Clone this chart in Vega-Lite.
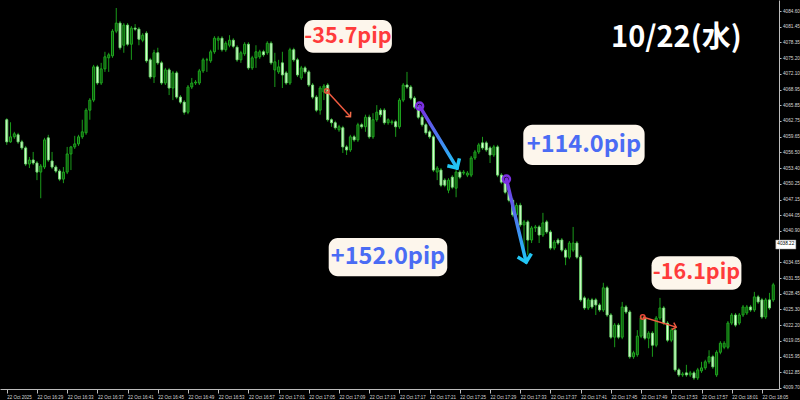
{
"$schema": "https://vega.github.io/schema/vega-lite/v6.json",
"width": 779, "height": 389,
"autosize": "none",
"padding": {"left": 0, "top": 0, "right": 21, "bottom": 11},
"background": "#000000",
"view": {"stroke": null},
"config": {"axis": {"grid": false, "title": null, "labelOverlap": false, "labelFlush": false, "labelBound": false, "tickCount": 100}},
"resolve": {"scale": {"color": "independent", "size": "independent", "angle": "independent", "strokeWidth": "independent"}},
"datasets": {
"candles": [
{"t":"2025-10-22T16:25:00","o":4063.0,"h":4063.3,"l":4058.0,"c":4058.6},
{"t":"2025-10-22T16:25:30","o":4058.6,"h":4062.5,"l":4058.4,"c":4059.6},
{"t":"2025-10-22T16:26:00","o":4059.6,"h":4060.6,"l":4059.2,"c":4060.2},
{"t":"2025-10-22T16:26:30","o":4060.0,"h":4060.4,"l":4058.2,"c":4058.6},
{"t":"2025-10-22T16:27:00","o":4058.6,"h":4059.0,"l":4057.0,"c":4057.4},
{"t":"2025-10-22T16:27:30","o":4057.4,"h":4057.8,"l":4053.8,"c":4054.2},
{"t":"2025-10-22T16:28:00","o":4054.2,"h":4055.6,"l":4053.4,"c":4055.0},
{"t":"2025-10-22T16:28:30","o":4055.0,"h":4056.6,"l":4054.0,"c":4054.4},
{"t":"2025-10-22T16:29:00","o":4054.4,"h":4054.8,"l":4051.0,"c":4052.6},
{"t":"2025-10-22T16:29:30","o":4052.6,"h":4054.2,"l":4047.4,"c":4053.8},
{"t":"2025-10-22T16:30:00","o":4053.6,"h":4059.4,"l":4053.2,"c":4059.0},
{"t":"2025-10-22T16:30:30","o":4059.4,"h":4060.0,"l":4054.6,"c":4055.0},
{"t":"2025-10-22T16:31:00","o":4054.8,"h":4056.6,"l":4053.2,"c":4053.6},
{"t":"2025-10-22T16:31:30","o":4053.6,"h":4054.0,"l":4052.4,"c":4052.8},
{"t":"2025-10-22T16:32:00","o":4052.8,"h":4053.2,"l":4050.8,"c":4051.2},
{"t":"2025-10-22T16:32:30","o":4051.2,"h":4053.6,"l":4050.4,"c":4052.6},
{"t":"2025-10-22T16:33:00","o":4052.6,"h":4057.6,"l":4052.2,"c":4056.2},
{"t":"2025-10-22T16:33:30","o":4056.2,"h":4057.8,"l":4053.0,"c":4057.6},
{"t":"2025-10-22T16:34:00","o":4057.6,"h":4059.8,"l":4057.2,"c":4058.2},
{"t":"2025-10-22T16:34:30","o":4058.2,"h":4060.0,"l":4057.8,"c":4059.6},
{"t":"2025-10-22T16:35:00","o":4059.6,"h":4063.0,"l":4059.2,"c":4060.6},
{"t":"2025-10-22T16:35:30","o":4060.4,"h":4065.3,"l":4060.0,"c":4064.9},
{"t":"2025-10-22T16:36:00","o":4064.9,"h":4067.3,"l":4063.0,"c":4066.9},
{"t":"2025-10-22T16:36:30","o":4066.9,"h":4073.9,"l":4066.5,"c":4073.5},
{"t":"2025-10-22T16:37:00","o":4073.5,"h":4073.9,"l":4069.9,"c":4070.3},
{"t":"2025-10-22T16:37:30","o":4070.3,"h":4074.3,"l":4069.9,"c":4073.1},
{"t":"2025-10-22T16:38:00","o":4073.1,"h":4076.5,"l":4072.5,"c":4075.5},
{"t":"2025-10-22T16:38:30","o":4075.3,"h":4076.3,"l":4072.5,"c":4075.9},
{"t":"2025-10-22T16:39:00","o":4075.7,"h":4081.0,"l":4075.3,"c":4080.6},
{"t":"2025-10-22T16:39:30","o":4080.6,"h":4085.2,"l":4080.2,"c":4082.2},
{"t":"2025-10-22T16:40:00","o":4082.2,"h":4082.6,"l":4076.9,"c":4077.3},
{"t":"2025-10-22T16:40:30","o":4077.8,"h":4082.2,"l":4076.3,"c":4081.8},
{"t":"2025-10-22T16:41:00","o":4081.8,"h":4082.2,"l":4077.6,"c":4078.0},
{"t":"2025-10-22T16:41:30","o":4078.0,"h":4081.6,"l":4074.9,"c":4081.2},
{"t":"2025-10-22T16:42:00","o":4081.2,"h":4082.0,"l":4080.6,"c":4081.0},
{"t":"2025-10-22T16:42:30","o":4081.0,"h":4081.4,"l":4077.8,"c":4079.0},
{"t":"2025-10-22T16:43:00","o":4078.8,"h":4080.2,"l":4078.4,"c":4079.8},
{"t":"2025-10-22T16:43:30","o":4080.2,"h":4080.6,"l":4074.3,"c":4074.7},
{"t":"2025-10-22T16:44:00","o":4074.9,"h":4075.3,"l":4071.1,"c":4071.5},
{"t":"2025-10-22T16:44:30","o":4071.5,"h":4076.9,"l":4070.3,"c":4076.3},
{"t":"2025-10-22T16:45:00","o":4076.3,"h":4077.3,"l":4073.9,"c":4074.3},
{"t":"2025-10-22T16:45:30","o":4074.3,"h":4074.7,"l":4069.9,"c":4070.3},
{"t":"2025-10-22T16:46:00","o":4070.3,"h":4073.3,"l":4069.9,"c":4072.9},
{"t":"2025-10-22T16:46:30","o":4072.9,"h":4073.3,"l":4067.9,"c":4069.3},
{"t":"2025-10-22T16:47:00","o":4069.3,"h":4072.7,"l":4066.9,"c":4072.3},
{"t":"2025-10-22T16:47:30","o":4072.3,"h":4072.7,"l":4067.1,"c":4067.5},
{"t":"2025-10-22T16:48:00","o":4067.5,"h":4067.9,"l":4066.1,"c":4066.5},
{"t":"2025-10-22T16:48:30","o":4066.5,"h":4066.9,"l":4064.0,"c":4064.5},
{"t":"2025-10-22T16:49:00","o":4064.5,"h":4069.9,"l":4064.1,"c":4069.5},
{"t":"2025-10-22T16:49:30","o":4069.5,"h":4071.3,"l":4069.1,"c":4070.3},
{"t":"2025-10-22T16:50:00","o":4070.3,"h":4070.9,"l":4069.9,"c":4070.5},
{"t":"2025-10-22T16:50:30","o":4070.3,"h":4073.1,"l":4069.9,"c":4072.7},
{"t":"2025-10-22T16:51:00","o":4072.7,"h":4075.3,"l":4072.3,"c":4074.9},
{"t":"2025-10-22T16:51:30","o":4074.9,"h":4075.3,"l":4072.5,"c":4074.9},
{"t":"2025-10-22T16:52:00","o":4074.7,"h":4076.9,"l":4074.3,"c":4076.5},
{"t":"2025-10-22T16:52:30","o":4076.5,"h":4079.6,"l":4076.1,"c":4079.2},
{"t":"2025-10-22T16:53:00","o":4078.8,"h":4079.6,"l":4076.9,"c":4079.2},
{"t":"2025-10-22T16:53:30","o":4079.2,"h":4079.6,"l":4076.5,"c":4076.9},
{"t":"2025-10-22T16:54:00","o":4076.9,"h":4078.6,"l":4076.5,"c":4078.2},
{"t":"2025-10-22T16:54:30","o":4077.8,"h":4079.8,"l":4077.4,"c":4078.8},
{"t":"2025-10-22T16:55:00","o":4078.8,"h":4079.2,"l":4077.2,"c":4077.6},
{"t":"2025-10-22T16:55:30","o":4077.4,"h":4077.8,"l":4074.5,"c":4074.9},
{"t":"2025-10-22T16:56:00","o":4074.9,"h":4076.7,"l":4074.3,"c":4076.3},
{"t":"2025-10-22T16:56:30","o":4076.1,"h":4078.4,"l":4075.7,"c":4078.0},
{"t":"2025-10-22T16:57:00","o":4078.0,"h":4078.4,"l":4072.9,"c":4073.3},
{"t":"2025-10-22T16:57:30","o":4073.3,"h":4075.7,"l":4072.9,"c":4075.3},
{"t":"2025-10-22T16:58:00","o":4075.3,"h":4077.8,"l":4073.3,"c":4076.5},
{"t":"2025-10-22T16:58:30","o":4075.5,"h":4076.9,"l":4075.1,"c":4076.5},
{"t":"2025-10-22T16:59:00","o":4076.5,"h":4076.9,"l":4075.5,"c":4075.9},
{"t":"2025-10-22T16:59:30","o":4076.3,"h":4078.6,"l":4075.9,"c":4078.2},
{"t":"2025-10-22T17:00:00","o":4078.2,"h":4078.6,"l":4073.9,"c":4074.3},
{"t":"2025-10-22T17:00:30","o":4072.9,"h":4076.3,"l":4069.5,"c":4074.5},
{"t":"2025-10-22T17:01:00","o":4072.5,"h":4074.9,"l":4072.1,"c":4073.5},
{"t":"2025-10-22T17:01:30","o":4074.3,"h":4076.5,"l":4069.3,"c":4071.9},
{"t":"2025-10-22T17:02:00","o":4072.3,"h":4072.7,"l":4069.9,"c":4070.3},
{"t":"2025-10-22T17:02:30","o":4070.3,"h":4077.3,"l":4069.9,"c":4076.9},
{"t":"2025-10-22T17:03:00","o":4076.9,"h":4077.3,"l":4074.5,"c":4074.9},
{"t":"2025-10-22T17:03:30","o":4074.9,"h":4075.3,"l":4071.5,"c":4071.9},
{"t":"2025-10-22T17:04:00","o":4071.3,"h":4073.7,"l":4070.9,"c":4073.3},
{"t":"2025-10-22T17:04:30","o":4073.3,"h":4073.7,"l":4072.1,"c":4072.5},
{"t":"2025-10-22T17:05:00","o":4072.5,"h":4072.9,"l":4069.5,"c":4069.9},
{"t":"2025-10-22T17:05:30","o":4069.9,"h":4070.3,"l":4067.1,"c":4067.5},
{"t":"2025-10-22T17:06:00","o":4067.5,"h":4067.9,"l":4064.5,"c":4064.9},
{"t":"2025-10-22T17:06:30","o":4064.9,"h":4069.7,"l":4064.0,"c":4069.3},
{"t":"2025-10-22T17:07:00","o":4068.5,"h":4070.1,"l":4066.9,"c":4069.7},
{"t":"2025-10-22T17:07:30","o":4069.9,"h":4070.3,"l":4062.6,"c":4063.0},
{"t":"2025-10-22T17:08:00","o":4063.0,"h":4063.3,"l":4061.6,"c":4062.4},
{"t":"2025-10-22T17:08:30","o":4062.4,"h":4062.8,"l":4061.0,"c":4061.4},
{"t":"2025-10-22T17:09:00","o":4061.0,"h":4062.0,"l":4060.6,"c":4061.6},
{"t":"2025-10-22T17:09:30","o":4061.4,"h":4061.8,"l":4056.4,"c":4057.6},
{"t":"2025-10-22T17:10:00","o":4057.6,"h":4058.0,"l":4056.0,"c":4057.0},
{"t":"2025-10-22T17:10:30","o":4057.0,"h":4060.0,"l":4056.6,"c":4059.6},
{"t":"2025-10-22T17:11:00","o":4059.6,"h":4060.0,"l":4058.6,"c":4059.0},
{"t":"2025-10-22T17:11:30","o":4059.0,"h":4062.4,"l":4058.6,"c":4062.0},
{"t":"2025-10-22T17:12:00","o":4062.0,"h":4062.4,"l":4061.2,"c":4061.6},
{"t":"2025-10-22T17:12:30","o":4061.6,"h":4064.0,"l":4060.6,"c":4063.5},
{"t":"2025-10-22T17:13:00","o":4063.5,"h":4064.0,"l":4059.2,"c":4059.6},
{"t":"2025-10-22T17:13:30","o":4059.6,"h":4064.3,"l":4059.2,"c":4063.0},
{"t":"2025-10-22T17:14:00","o":4063.0,"h":4065.9,"l":4062.6,"c":4064.5},
{"t":"2025-10-22T17:14:30","o":4064.9,"h":4065.3,"l":4063.5,"c":4064.0},
{"t":"2025-10-22T17:15:00","o":4064.9,"h":4065.3,"l":4062.0,"c":4062.4},
{"t":"2025-10-22T17:15:30","o":4062.4,"h":4063.3,"l":4062.0,"c":4063.0},
{"t":"2025-10-22T17:16:00","o":4062.4,"h":4063.0,"l":4062.0,"c":4062.6},
{"t":"2025-10-22T17:16:30","o":4062.6,"h":4063.0,"l":4059.6,"c":4061.6},
{"t":"2025-10-22T17:17:00","o":4061.6,"h":4067.3,"l":4061.2,"c":4066.9},
{"t":"2025-10-22T17:17:30","o":4066.9,"h":4070.3,"l":4066.5,"c":4069.9},
{"t":"2025-10-22T17:18:00","o":4069.9,"h":4072.5,"l":4069.1,"c":4069.5},
{"t":"2025-10-22T17:18:30","o":4069.5,"h":4069.9,"l":4066.9,"c":4067.3},
{"t":"2025-10-22T17:19:00","o":4067.3,"h":4067.7,"l":4065.1,"c":4065.5},
{"t":"2025-10-22T17:19:30","o":4065.5,"h":4065.9,"l":4063.1,"c":4063.5},
{"t":"2025-10-22T17:20:00","o":4063.5,"h":4064.0,"l":4061.6,"c":4062.0},
{"t":"2025-10-22T17:20:30","o":4062.0,"h":4062.4,"l":4060.0,"c":4060.4},
{"t":"2025-10-22T17:21:00","o":4060.6,"h":4061.0,"l":4059.2,"c":4059.6},
{"t":"2025-10-22T17:21:30","o":4059.6,"h":4060.0,"l":4052.6,"c":4053.0},
{"t":"2025-10-22T17:22:00","o":4052.6,"h":4053.8,"l":4051.0,"c":4053.4},
{"t":"2025-10-22T17:22:30","o":4053.0,"h":4053.4,"l":4049.6,"c":4050.0},
{"t":"2025-10-22T17:23:00","o":4051.0,"h":4051.4,"l":4049.6,"c":4050.0},
{"t":"2025-10-22T17:23:30","o":4049.0,"h":4051.4,"l":4048.4,"c":4051.0},
{"t":"2025-10-22T17:24:00","o":4051.6,"h":4052.0,"l":4049.2,"c":4049.6},
{"t":"2025-10-22T17:24:30","o":4049.4,"h":4053.0,"l":4047.6,"c":4052.6},
{"t":"2025-10-22T17:25:00","o":4052.6,"h":4053.0,"l":4051.2,"c":4051.6},
{"t":"2025-10-22T17:25:30","o":4052.4,"h":4053.0,"l":4052.0,"c":4052.6},
{"t":"2025-10-22T17:26:00","o":4052.0,"h":4052.8,"l":4051.6,"c":4052.4},
{"t":"2025-10-22T17:26:30","o":4052.0,"h":4055.8,"l":4051.6,"c":4055.4},
{"t":"2025-10-22T17:27:00","o":4055.4,"h":4057.0,"l":4055.0,"c":4056.6},
{"t":"2025-10-22T17:27:30","o":4056.6,"h":4058.4,"l":4056.2,"c":4058.0},
{"t":"2025-10-22T17:28:00","o":4058.4,"h":4059.6,"l":4057.0,"c":4057.4},
{"t":"2025-10-22T17:28:30","o":4058.4,"h":4058.8,"l":4056.6,"c":4057.0},
{"t":"2025-10-22T17:29:00","o":4057.4,"h":4057.8,"l":4054.4,"c":4056.0},
{"t":"2025-10-22T17:29:30","o":4056.0,"h":4058.0,"l":4055.6,"c":4057.6},
{"t":"2025-10-22T17:30:00","o":4057.6,"h":4058.0,"l":4051.6,"c":4052.0},
{"t":"2025-10-22T17:30:30","o":4052.0,"h":4052.4,"l":4050.2,"c":4050.6},
{"t":"2025-10-22T17:31:00","o":4050.6,"h":4051.0,"l":4048.2,"c":4048.6},
{"t":"2025-10-22T17:31:30","o":4048.6,"h":4049.0,"l":4046.6,"c":4047.0},
{"t":"2025-10-22T17:32:00","o":4047.0,"h":4047.4,"l":4043.7,"c":4044.1},
{"t":"2025-10-22T17:32:30","o":4044.1,"h":4046.5,"l":4043.5,"c":4046.0},
{"t":"2025-10-22T17:33:00","o":4046.0,"h":4046.5,"l":4041.7,"c":4042.1},
{"t":"2025-10-22T17:33:30","o":4042.1,"h":4043.1,"l":4037.1,"c":4042.7},
{"t":"2025-10-22T17:34:00","o":4042.7,"h":4043.1,"l":4036.1,"c":4039.1},
{"t":"2025-10-22T17:34:30","o":4039.1,"h":4041.9,"l":4038.5,"c":4041.5},
{"t":"2025-10-22T17:35:00","o":4041.5,"h":4042.1,"l":4040.7,"c":4041.7},
{"t":"2025-10-22T17:35:30","o":4041.7,"h":4042.1,"l":4038.5,"c":4040.1},
{"t":"2025-10-22T17:36:00","o":4040.1,"h":4044.5,"l":4039.7,"c":4042.5},
{"t":"2025-10-22T17:36:30","o":4042.7,"h":4043.1,"l":4040.3,"c":4040.7},
{"t":"2025-10-22T17:37:00","o":4040.7,"h":4041.1,"l":4037.1,"c":4037.5},
{"t":"2025-10-22T17:37:30","o":4037.5,"h":4039.1,"l":4037.1,"c":4038.7},
{"t":"2025-10-22T17:38:00","o":4039.1,"h":4039.5,"l":4038.1,"c":4038.5},
{"t":"2025-10-22T17:38:30","o":4039.1,"h":4039.5,"l":4036.7,"c":4037.1},
{"t":"2025-10-22T17:39:00","o":4037.1,"h":4037.5,"l":4034.1,"c":4035.7},
{"t":"2025-10-22T17:39:30","o":4035.7,"h":4038.9,"l":4035.3,"c":4038.5},
{"t":"2025-10-22T17:40:00","o":4037.1,"h":4041.7,"l":4036.7,"c":4038.5},
{"t":"2025-10-22T17:40:30","o":4038.5,"h":4038.9,"l":4035.3,"c":4035.7},
{"t":"2025-10-22T17:41:00","o":4035.7,"h":4036.1,"l":4026.8,"c":4027.2},
{"t":"2025-10-22T17:41:30","o":4027.6,"h":4028.0,"l":4025.2,"c":4025.6},
{"t":"2025-10-22T17:42:00","o":4025.6,"h":4027.6,"l":4025.2,"c":4027.2},
{"t":"2025-10-22T17:42:30","o":4027.2,"h":4027.6,"l":4025.4,"c":4025.8},
{"t":"2025-10-22T17:43:00","o":4027.2,"h":4027.6,"l":4024.2,"c":4026.2},
{"t":"2025-10-22T17:43:30","o":4026.2,"h":4026.6,"l":4024.8,"c":4025.2},
{"t":"2025-10-22T17:44:00","o":4025.2,"h":4030.6,"l":4024.8,"c":4029.6},
{"t":"2025-10-22T17:44:30","o":4029.6,"h":4030.0,"l":4023.8,"c":4024.2},
{"t":"2025-10-22T17:45:00","o":4024.2,"h":4024.6,"l":4019.4,"c":4019.8},
{"t":"2025-10-22T17:45:30","o":4019.8,"h":4022.6,"l":4017.8,"c":4022.2},
{"t":"2025-10-22T17:46:00","o":4022.2,"h":4022.6,"l":4019.4,"c":4019.8},
{"t":"2025-10-22T17:46:30","o":4019.8,"h":4026.8,"l":4019.4,"c":4025.8},
{"t":"2025-10-22T17:47:00","o":4025.8,"h":4026.2,"l":4024.4,"c":4024.8},
{"t":"2025-10-22T17:47:30","o":4024.8,"h":4025.2,"l":4015.5,"c":4015.9},
{"t":"2025-10-22T17:48:00","o":4015.9,"h":4017.1,"l":4015.5,"c":4016.7},
{"t":"2025-10-22T17:48:30","o":4016.3,"h":4021.2,"l":4015.9,"c":4020.0},
{"t":"2025-10-22T17:49:00","o":4020.0,"h":4024.0,"l":4019.6,"c":4023.6},
{"t":"2025-10-22T17:49:30","o":4023.6,"h":4024.0,"l":4019.2,"c":4019.6},
{"t":"2025-10-22T17:50:00","o":4019.6,"h":4021.0,"l":4017.6,"c":4020.6},
{"t":"2025-10-22T17:50:30","o":4020.6,"h":4021.0,"l":4015.9,"c":4018.2},
{"t":"2025-10-22T17:51:00","o":4018.2,"h":4024.0,"l":4017.8,"c":4023.6},
{"t":"2025-10-22T17:51:30","o":4023.6,"h":4027.6,"l":4023.2,"c":4025.6},
{"t":"2025-10-22T17:52:00","o":4025.6,"h":4026.0,"l":4022.2,"c":4022.6},
{"t":"2025-10-22T17:52:30","o":4022.6,"h":4023.0,"l":4018.8,"c":4019.2},
{"t":"2025-10-22T17:53:00","o":4019.2,"h":4021.6,"l":4018.8,"c":4021.2},
{"t":"2025-10-22T17:53:30","o":4021.2,"h":4021.6,"l":4012.9,"c":4013.3},
{"t":"2025-10-22T17:54:00","o":4013.3,"h":4013.7,"l":4011.9,"c":4012.3},
{"t":"2025-10-22T17:54:30","o":4012.3,"h":4012.9,"l":4011.9,"c":4012.5},
{"t":"2025-10-22T17:55:00","o":4012.7,"h":4014.3,"l":4011.9,"c":4012.3},
{"t":"2025-10-22T17:55:30","o":4012.3,"h":4013.1,"l":4011.9,"c":4012.7},
{"t":"2025-10-22T17:56:00","o":4012.7,"h":4013.1,"l":4011.3,"c":4011.7},
{"t":"2025-10-22T17:56:30","o":4011.7,"h":4013.7,"l":4011.3,"c":4013.3},
{"t":"2025-10-22T17:57:00","o":4013.1,"h":4014.9,"l":4012.7,"c":4013.7},
{"t":"2025-10-22T17:57:30","o":4013.7,"h":4015.3,"l":4013.3,"c":4014.9},
{"t":"2025-10-22T17:58:00","o":4014.9,"h":4017.2,"l":4014.5,"c":4015.9},
{"t":"2025-10-22T17:58:30","o":4015.9,"h":4016.3,"l":4013.5,"c":4013.9},
{"t":"2025-10-22T17:59:00","o":4012.3,"h":4017.2,"l":4011.9,"c":4016.8},
{"t":"2025-10-22T17:59:30","o":4016.8,"h":4019.0,"l":4016.4,"c":4018.6},
{"t":"2025-10-22T18:00:00","o":4017.8,"h":4019.0,"l":4017.4,"c":4018.6},
{"t":"2025-10-22T18:00:30","o":4017.8,"h":4023.0,"l":4017.4,"c":4022.6},
{"t":"2025-10-22T18:01:00","o":4022.6,"h":4024.6,"l":4022.2,"c":4024.2},
{"t":"2025-10-22T18:01:30","o":4024.2,"h":4024.6,"l":4021.8,"c":4022.2},
{"t":"2025-10-22T18:02:00","o":4022.6,"h":4024.6,"l":4022.2,"c":4024.2},
{"t":"2025-10-22T18:02:30","o":4024.2,"h":4026.2,"l":4023.8,"c":4025.8},
{"t":"2025-10-22T18:03:00","o":4024.6,"h":4026.2,"l":4024.2,"c":4025.8},
{"t":"2025-10-22T18:03:30","o":4025.8,"h":4026.2,"l":4024.8,"c":4025.2},
{"t":"2025-10-22T18:04:00","o":4025.2,"h":4028.8,"l":4024.8,"c":4027.8},
{"t":"2025-10-22T18:04:30","o":4027.8,"h":4028.2,"l":4026.4,"c":4026.8},
{"t":"2025-10-22T18:05:00","o":4027.2,"h":4027.6,"l":4023.4,"c":4023.8},
{"t":"2025-10-22T18:05:30","o":4023.8,"h":4027.6,"l":4023.4,"c":4027.2},
{"t":"2025-10-22T18:06:00","o":4027.2,"h":4028.6,"l":4025.2,"c":4025.6},
{"t":"2025-10-22T18:06:30","o":4027.2,"h":4030.6,"l":4026.8,"c":4030.2}
],
"boxes": [
{"t":"2025-10-22T17:04:22","t2":"2025-10-22T17:16:00","p":4082.8,"p2":4076.3},
{"t":"2025-10-22T17:33:24","t2":"2025-10-22T17:49:28","p":4062.0,"p2":4054.0},
{"t":"2025-10-22T17:07:38","t2":"2025-10-22T17:23:20","p":4039.5,"p2":4031.9},
{"t":"2025-10-22T17:50:23","t2":"2025-10-22T18:02:17","p":4035.9,"p2":4029.2}
],
"labels": [
{"t":"2025-10-22T17:10:11","p":4079.4,"text":"-35.7pip","kind":"neg"},
{"t":"2025-10-22T17:41:26","p":4058.0,"text":"+114.0pip","kind":"pos"},
{"t":"2025-10-22T17:15:29","p":4035.7,"text":"+152.0pip","kind":"pos"},
{"t":"2025-10-22T17:56:20","p":4032.5,"text":"-16.1pip","kind":"neg"},
{"t":"2025-10-22T17:53:40","p":4079.2,"text":"10/22(水)","kind":"date"}
],
"arrows": [
{"id":"red1","ord":1,"t":"2025-10-22T17:07:23","p":4068.7},
{"id":"red1","ord":2,"t":"2025-10-22T17:10:31","p":4063.6},
{"id":"grad1","ord":1,"t":"2025-10-22T17:19:40","p":4065.7},
{"id":"grad1","ord":2,"t":"2025-10-22T17:24:38","p":4053.4},
{"id":"grad2","ord":1,"t":"2025-10-22T17:31:10","p":4051.2},
{"id":"grad2","ord":2,"t":"2025-10-22T17:33:47","p":4034.7},
{"id":"red2","ord":1,"t":"2025-10-22T17:49:13","p":4023.8},
{"id":"red2","ord":2,"t":"2025-10-22T17:53:39","p":4021.8}
],
"price": [
{"t":"2025-10-22T18:06:50","t2":"2025-10-22T18:09:30","tm":"2025-10-22T18:08:10","p":4039.1,"p2":4037.3,"pm":4038.22,"text":"4038.22"}
]
},
"layer": [
{
"mark": {"type": "rule", "color": "#3a4047", "strokeWidth": 1},
"encoding": {
"y": {"datum": 4038.22, "type": "quantitative", "scale": {"domain": [4009.5, 4086.79], "nice": false, "zero": false}}
}
},
{
"mark": {"type": "rule", "color": "#9a9a9a", "strokeWidth": 1},
"encoding": {
"x": {"datum": {"year": 2025, "month": 10, "date": 22, "hours": 16, "minutes": 25, "seconds": 6}, "type": "temporal", "scale": {"domain": [{"year": 2025, "month": 10, "date": 22, "hours": 16, "minutes": 24, "seconds": 46}, {"year": 2025, "month": 10, "date": 22, "hours": 18, "minutes": 6, "seconds": 36}], "nice": false}}
}
},
{
"data": {"name": "candles"},
"mark": {"type": "rule", "color": "#1a9a1a", "strokeWidth": 1},
"encoding": {
"x": {"field": "t", "type": "temporal", "scale": {"domain": [{"year": 2025, "month": 10, "date": 22, "hours": 16, "minutes": 24, "seconds": 46}, {"year": 2025, "month": 10, "date": 22, "hours": 18, "minutes": 6, "seconds": 36}], "nice": false}},
"y": {"field": "l", "type": "quantitative", "scale": {"domain": [4009.5, 4086.79], "nice": false, "zero": false}},
"y2": {"field": "h"}
}
},
{
"data": {"name": "candles"},
"mark": {"type": "bar", "width": 2, "strokeWidth": 1},
"encoding": {
"x": {"field": "t", "type": "temporal", "scale": {"domain": [{"year": 2025, "month": 10, "date": 22, "hours": 16, "minutes": 24, "seconds": 46}, {"year": 2025, "month": 10, "date": 22, "hours": 18, "minutes": 6, "seconds": 36}], "nice": false},
 "axis": {"orient": "bottom", "title": null, "grid": false, "tickCount": 100, "values": [
 {"year":2025,"month":10,"date":22,"hours":16,"minutes":25},{"year":2025,"month":10,"date":22,"hours":16,"minutes":29},{"year":2025,"month":10,"date":22,"hours":16,"minutes":33},{"year":2025,"month":10,"date":22,"hours":16,"minutes":37},{"year":2025,"month":10,"date":22,"hours":16,"minutes":41},{"year":2025,"month":10,"date":22,"hours":16,"minutes":45},{"year":2025,"month":10,"date":22,"hours":16,"minutes":49},{"year":2025,"month":10,"date":22,"hours":16,"minutes":53},{"year":2025,"month":10,"date":22,"hours":16,"minutes":57},{"year":2025,"month":10,"date":22,"hours":17,"minutes":1},{"year":2025,"month":10,"date":22,"hours":17,"minutes":5},{"year":2025,"month":10,"date":22,"hours":17,"minutes":9},{"year":2025,"month":10,"date":22,"hours":17,"minutes":13},{"year":2025,"month":10,"date":22,"hours":17,"minutes":17},{"year":2025,"month":10,"date":22,"hours":17,"minutes":21},{"year":2025,"month":10,"date":22,"hours":17,"minutes":25},{"year":2025,"month":10,"date":22,"hours":17,"minutes":29},{"year":2025,"month":10,"date":22,"hours":17,"minutes":33},{"year":2025,"month":10,"date":22,"hours":17,"minutes":37},{"year":2025,"month":10,"date":22,"hours":17,"minutes":41},{"year":2025,"month":10,"date":22,"hours":17,"minutes":45},{"year":2025,"month":10,"date":22,"hours":17,"minutes":49},{"year":2025,"month":10,"date":22,"hours":17,"minutes":53},{"year":2025,"month":10,"date":22,"hours":17,"minutes":57},{"year":2025,"month":10,"date":22,"hours":18,"minutes":1},{"year":2025,"month":10,"date":22,"hours":18,"minutes":5}
 ],
 "labelExpr": "hours(datum.value) == 16 && minutes(datum.value) == 25 ? '22 Oct 2025' : timeFormat(datum.value, '%d %b %H:%M')",
 "labelAlign": "left", "labelBaseline": "top", "labelFontSize": 4.5, "labelFont": "Liberation Sans", "labelColor": "#d8d8d8", "labelPadding": 1, "labelOverlap": false, "labelFlush": false, "labelBound": false,
 "tickSize": 4, "tickColor": "#bdbdbd", "domainColor": "#bdbdbd", "domainWidth": 1}},
"y": {"field": "o", "type": "quantitative", "scale": {"domain": [4009.5, 4086.79], "nice": false, "zero": false},
 "axis": {"orient": "right", "title": null, "grid": false, "tickCount": 100, "values": [4084.6, 4081.45, 4078.35, 4075.2, 4072.1, 4068.95, 4065.85, 4062.75, 4059.65, 4056.5, 4053.4, 4050.25, 4047.15, 4044.05, 4040.9, 4034.65, 4031.55, 4028.45, 4025.3, 4022.2, 4019.05, 4015.95, 4012.85, 4009.7],
 "format": ".2f", "labelFontSize": 4.7, "labelFont": "Liberation Sans", "labelColor": "#d8d8d8", "labelPadding": 1.5, "labelOverlap": false, "labelFlush": false, "labelBound": false,
 "tickSize": 2, "tickColor": "#bdbdbd", "domainColor": "#bdbdbd", "domainWidth": 1}},
"y2": {"field": "c"},
"fill": {"condition": {"test": "datum.o > datum.c", "value": "#dcffd6"}, "value": "#0b4f0b"},
"stroke": {"condition": {"test": "datum.o > datum.c", "value": "#6fd86f"}, "value": "#1fa81f"}
}
},
{
"data": {"name": "boxes"},
"mark": {"type": "rect", "cornerRadius": 9, "fill": "#fdf6ec"},
"encoding": {
"x": {"field": "t", "type": "temporal", "scale": {"domain": [{"year": 2025, "month": 10, "date": 22, "hours": 16, "minutes": 24, "seconds": 46}, {"year": 2025, "month": 10, "date": 22, "hours": 18, "minutes": 6, "seconds": 36}], "nice": false}},
"x2": {"field": "t2"},
"y": {"field": "p", "type": "quantitative", "scale": {"domain": [4009.5, 4086.79], "nice": false, "zero": false}},
"y2": {"field": "p2"}
}
},
{
"data": {"name": "labels"},
"mark": {"type": "text", "font": "Noto Sans CJK JP", "fontWeight": "bold", "align": "center", "baseline": "middle"},
"encoding": {
"x": {"field": "t", "type": "temporal", "scale": {"domain": [{"year": 2025, "month": 10, "date": 22, "hours": 16, "minutes": 24, "seconds": 46}, {"year": 2025, "month": 10, "date": 22, "hours": 18, "minutes": 6, "seconds": 36}], "nice": false}},
"y": {"field": "p", "type": "quantitative", "scale": {"domain": [4009.5, 4086.79], "nice": false, "zero": false}},
"text": {"field": "text"},
"color": {"field": "kind", "type": "nominal", "scale": {"type": "ordinal", "domain": ["neg", "pos", "date"], "range": ["#ff3b3b", "#4a6cf4", "#ffffff"]}, "legend": null},
"size": {"field": "kind", "type": "nominal", "scale": {"type": "ordinal", "domain": ["neg", "pos", "date"], "range": [21.5, 23.5, 29]}, "legend": null}
}
},
{
"data": {"name": "arrows"},
"transform": [{"filter": "datum.id == 'red1' || datum.id == 'red2'"}],
"mark": {"type": "line", "color": "#f05a40", "strokeWidth": 1.5},
"encoding": {
"x": {"field": "t", "type": "temporal", "scale": {"domain": [{"year": 2025, "month": 10, "date": 22, "hours": 16, "minutes": 24, "seconds": 46}, {"year": 2025, "month": 10, "date": 22, "hours": 18, "minutes": 6, "seconds": 36}], "nice": false}},
"y": {"field": "p", "type": "quantitative", "scale": {"domain": [4009.5, 4086.79], "nice": false, "zero": false}},
"detail": {"field": "id"},
"order": {"field": "ord"}
}
},
{
"data": {"name": "arrows"},
"transform": [{"filter": "datum.id == 'grad1'"}],
"mark": {"type": "line", "strokeWidth": 3.5, "strokeCap": "round", "stroke": {"gradient": "linear", "x1": 0, "y1": 0, "x2": 1, "y2": 1, "stops": [{"offset": 0, "color": "#7a2ee2"}, {"offset": 0.5, "color": "#4a7cf0"}, {"offset": 1, "color": "#1ec8f6"}]}},
"encoding": {
"x": {"field": "t", "type": "temporal", "scale": {"domain": [{"year": 2025, "month": 10, "date": 22, "hours": 16, "minutes": 24, "seconds": 46}, {"year": 2025, "month": 10, "date": 22, "hours": 18, "minutes": 6, "seconds": 36}], "nice": false}},
"y": {"field": "p", "type": "quantitative", "scale": {"domain": [4009.5, 4086.79], "nice": false, "zero": false}},
"order": {"field": "ord"}
}
},
{
"data": {"name": "arrows"},
"transform": [{"filter": "datum.id == 'grad2'"}],
"mark": {"type": "line", "strokeWidth": 3.5, "strokeCap": "round", "stroke": {"gradient": "linear", "x1": 0, "y1": 0, "x2": 0, "y2": 1, "stops": [{"offset": 0, "color": "#7a2ee2"}, {"offset": 0.5, "color": "#4a7cf0"}, {"offset": 1, "color": "#1ec8f6"}]}},
"encoding": {
"x": {"field": "t", "type": "temporal", "scale": {"domain": [{"year": 2025, "month": 10, "date": 22, "hours": 16, "minutes": 24, "seconds": 46}, {"year": 2025, "month": 10, "date": 22, "hours": 18, "minutes": 6, "seconds": 36}], "nice": false}},
"y": {"field": "p", "type": "quantitative", "scale": {"domain": [4009.5, 4086.79], "nice": false, "zero": false}},
"order": {"field": "ord"}
}
},
{
"data": {"name": "arrows"},
"transform": [{"filter": "datum.ord == 2"}],
"mark": {"type": "point", "shape": "M -1 1 L 0 0 L 1 1", "filled": false, "opacity": 1, "strokeJoin": "miter"},
"encoding": {
"x": {"field": "t", "type": "temporal", "scale": {"domain": [{"year": 2025, "month": 10, "date": 22, "hours": 16, "minutes": 24, "seconds": 46}, {"year": 2025, "month": 10, "date": 22, "hours": 18, "minutes": 6, "seconds": 36}], "nice": false}},
"y": {"field": "p", "type": "quantitative", "scale": {"domain": [4009.5, 4086.79], "nice": false, "zero": false}},
"angle": {"field": "id", "type": "nominal", "scale": {"type": "ordinal", "domain": ["red1", "grad1", "grad2", "red2"], "range": [137, 148.5, 166.5, 106]}, "legend": null},
"size": {"field": "id", "type": "nominal", "scale": {"type": "ordinal", "domain": ["red1", "grad1", "grad2", "red2"], "range": [50, 200, 200, 50]}, "legend": null},
"color": {"field": "id", "type": "nominal", "scale": {"type": "ordinal", "domain": ["red1", "grad1", "grad2", "red2"], "range": ["#f06a48", "#22c6f4", "#22c6f4", "#f05a40"]}, "legend": null},
"strokeWidth": {"field": "id", "type": "nominal", "scale": {"type": "ordinal", "domain": ["red1", "grad1", "grad2", "red2"], "range": [1.5, 3.5, 3.5, 1.5]}, "legend": null}
}
},
{
"data": {"name": "arrows"},
"transform": [{"filter": "datum.ord == 1"}],
"mark": {"type": "point", "shape": "circle", "filled": false, "opacity": 1},
"encoding": {
"x": {"field": "t", "type": "temporal", "scale": {"domain": [{"year": 2025, "month": 10, "date": 22, "hours": 16, "minutes": 24, "seconds": 46}, {"year": 2025, "month": 10, "date": 22, "hours": 18, "minutes": 6, "seconds": 36}], "nice": false}},
"y": {"field": "p", "type": "quantitative", "scale": {"domain": [4009.5, 4086.79], "nice": false, "zero": false}},
"size": {"field": "id", "type": "nominal", "scale": {"type": "ordinal", "domain": ["red1", "grad1", "grad2", "red2"], "range": [20, 50, 50, 20]}, "legend": null},
"color": {"field": "id", "type": "nominal", "scale": {"type": "ordinal", "domain": ["red1", "grad1", "grad2", "red2"], "range": ["#e8503a", "#7b2fe0", "#7b2fe0", "#f04a3a"]}, "legend": null},
"strokeWidth": {"field": "id", "type": "nominal", "scale": {"type": "ordinal", "domain": ["red1", "grad1", "grad2", "red2"], "range": [1.5, 2.5, 2.5, 1.5]}, "legend": null}
}
},
{
"data": {"name": "price"},
"mark": {"type": "rect", "fill": "#ffffff", "stroke": "#888888", "strokeWidth": 0.5},
"encoding": {
"x": {"field": "t", "type": "temporal", "scale": {"domain": [{"year": 2025, "month": 10, "date": 22, "hours": 16, "minutes": 24, "seconds": 46}, {"year": 2025, "month": 10, "date": 22, "hours": 18, "minutes": 6, "seconds": 36}], "nice": false}},
"x2": {"field": "t2"},
"y": {"field": "p", "type": "quantitative", "scale": {"domain": [4009.5, 4086.79], "nice": false, "zero": false}},
"y2": {"field": "p2"}
}
},
{
"data": {"name": "price"},
"mark": {"type": "text", "fontSize": 4.7, "font": "Liberation Sans", "color": "#000000", "align": "center", "baseline": "middle"},
"encoding": {
"x": {"field": "tm", "type": "temporal", "scale": {"domain": [{"year": 2025, "month": 10, "date": 22, "hours": 16, "minutes": 24, "seconds": 46}, {"year": 2025, "month": 10, "date": 22, "hours": 18, "minutes": 6, "seconds": 36}], "nice": false}},
"y": {"field": "pm", "type": "quantitative", "scale": {"domain": [4009.5, 4086.79], "nice": false, "zero": false}},
"text": {"field": "text"}
}
}
]
}
